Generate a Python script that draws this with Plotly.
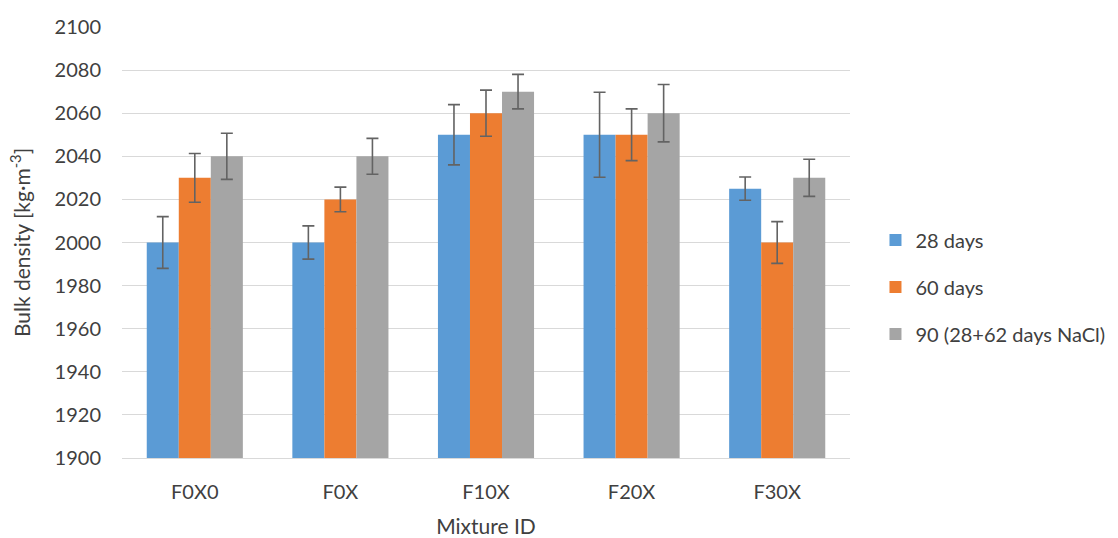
import plotly.graph_objects as go

categories = ["F0X0", "F0X", "F10X", "F20X", "F30X"]
series_names = ["28 days", "60 days", "90 (28+62 days NaCl)"]
d28 = [2000, 2000, 2050, 2050, 2025]
d60 = [2030, 2020, 2060, 2050, 2000]
d90 = [2040, 2040, 2070, 2060, 2030]
e28 = [12, 7.7, 14, 19.7, 5.4]
e60 = [11.3, 5.7, 10.7, 12, 9.7]
e90 = [10.7, 8.3, 8, 13.3, 8.6]
colors = ["#5b9bd5", "#ed7d31", "#a5a5a5"]
y_ticks = list(range(1900, 2101, 20))

fig = go.Figure()
for i, (name, vals, errs) in enumerate(zip(series_names, [d28, d60, d90], [e28, e60, e90])):
    fig.add_trace(go.Bar(
        x=categories, y=vals, name=name,
        marker=dict(color=colors[i], line=dict(width=0)),
        error_y=dict(type="data", array=errs, visible=True, color="#636363", thickness=1.6, width=6),
        legendgroup=f"g{i}",
    ))

font_family = "Lato, 'Open Sans', sans-serif"
fig.update_layout(
    width=1118, height=538,
    margin=dict(l=122, r=268, t=27, b=80, autoexpand=False),
    paper_bgcolor="white", plot_bgcolor="white",
    barmode="group", bargap=0.34, bargroupgap=0,
    font=dict(family=font_family, size=20, color="#404040"),
    showlegend=True,
    legend=dict(x=1.035, y=0.397, xanchor="left", yanchor="middle",
                font=dict(size=20, color="#404040"), tracegroupgap=18,
                bgcolor="rgba(0,0,0,0)"),
    xaxis=dict(title=dict(text="Mixture ID", font=dict(size=21), standoff=18),
               automargin=False,
               showgrid=False, showline=True, linecolor="#d9d9d9", linewidth=1,
               ticks="", ticklabelstandoff=16, tickfont=dict(size=20, color="#404040")),
    yaxis=dict(title=dict(text="Bulk density [kg·m<sup>-3</sup>]", font=dict(size=21), standoff=18),
               automargin=False,
               range=[1900, 2100], tickvals=y_ticks, showgrid=True, gridcolor="#d9d9d9",
               gridwidth=1, zeroline=False, showline=False, ticks="",
               ticklabelstandoff=20, tickfont=dict(size=20, color="#404040")),
)

fig.write_html("out.html")
